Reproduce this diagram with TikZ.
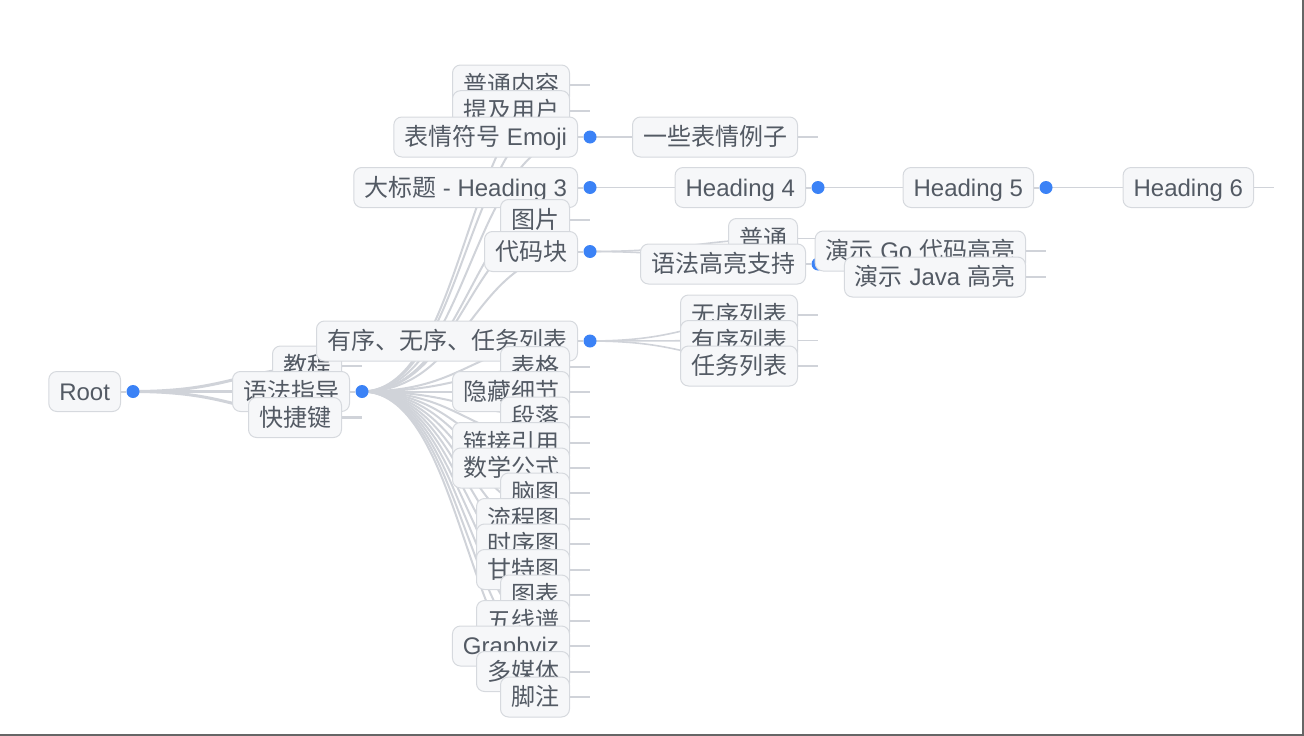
\documentclass[tikz,border=0pt]{standalone}
\usepackage{fontspec}
\setmainfont{Noto Sans CJK SC}
\newfontfamily\en{Liberation Sans}
\usetikzlibrary{calc}
\definecolor{nodefill}{RGB}{246,247,249}
\definecolor{nodeline}{RGB}{214,217,222}
\definecolor{nodetext}{RGB}{83,90,100}
\definecolor{linkgray}{RGB}{208,211,217}
\definecolor{dotblue}{RGB}{59,130,246}
\pgfdeclarelayer{links}
\pgfdeclarelayer{dots}
\pgfsetlayers{links,dots,main}

\begin{document}
\begin{tikzpicture}[
  x=1pt, y=-1pt,
  topic/.style={draw=nodeline, fill=nodefill, rounded corners=8pt, line width=1pt,
    text=nodetext, font=\fontsize{24}{28}\selectfont, inner xsep=10.5pt,
    inner ysep=0pt, text height=20.5pt, text depth=3.5pt, minimum height=40pt,
    anchor=east},
  knot/.style={circle, fill=dotblue, inner sep=0pt, minimum size=13pt},
  link/.style={draw=linkgray, line width=#1, to path={
    let \p1=(\tikztostart), \p2=(\tikztotarget) in
    .. controls ({(\x1+\x2)/2},\y1) and ({(\x1+\x2)/2},\y2) .. (\tikztotarget)}},
  link/.default=2pt,
  stub/.style={draw=linkgray, line width=#1},
  stub/.default=2pt
]
\useasboundingbox (0,0) rectangle (1304,736);
% root and first level
\node[topic] (root) at (121,391.5) {\en Root};
\node[topic] (jc) at (342,366) {教程};
\node[topic] (yf) at (350,391.5) {语法指导};
\node[topic] (kj) at (342,417.5) {快捷键};
% second level
\node[topic] (pt) at (570,85) {普通内容};
\node[topic] (tj) at (570,110.7) {提及用户};
\node[topic] (bq) at (578,137) {表情符号{\en{} Emoji}};
\node[topic] (li) at (798,137) {一些表情例子};
\node[topic] (dbt) at (578,187.5) {大标题{\en{} - Heading 3}};
\node[topic] (h4) at (806,187.5) {\en Heading 4};
\node[topic] (h5) at (1034,187.5) {\en Heading 5};
\node[topic] (h6) at (1254,187.5) {\en Heading 6};
\node[topic] (tp) at (570,219.5) {图片};
\node[topic] (dm) at (578,251.5) {代码块};
\node[topic] (pt2) at (798,238.5) {普通};
\node[topic] (yg) at (806,264) {语法高亮支持};
\node[topic] (go) at (1026,251) {演示{\en{} Go }代码高亮};
\node[topic] (java) at (1026,277) {演示{\en{} Java }高亮};
\node[topic] (lb) at (578,341) {有序、无序、任务列表};
\node[topic] (lb1) at (798,315) {无序列表};
\node[topic] (lb2) at (798,340.5) {有序列表};
\node[topic] (lb3) at (798,366) {任务列表};
\node[topic] (bg) at (570,366.5) {表格};
\node[topic] (yc) at (570,391.5) {隐藏细节};
\node[topic] (dl) at (570,417) {段落};
\node[topic] (lj) at (570,442.5) {链接引用};
\node[topic] (sx) at (570,468) {数学公式};
\node[topic] (nt) at (570,493) {脑图};
\node[topic] (lc) at (570,518.5) {流程图};
\node[topic] (sxt) at (570,544) {时序图};
\node[topic] (gt) at (570,569.5) {甘特图};
\node[topic] (tb) at (570,595) {图表};
\node[topic] (wx) at (570,620.5) {五线谱};
\node[topic] (gv) at (570,646) {\en Graphviz};
\node[topic] (dmt) at (570,671.5) {多媒体};
\node[topic] (jz) at (570,697) {脚注};

\begin{pgfonlayer}{dots}
\foreach \nd in {jc,kj}
  \draw[stub=2.5pt] (\nd.east) -- ++(20,0);
\foreach \nd in {pt,tj,tp,bg,yc,dl,lj,sx,nt,lc,sxt,gt,tb,wx,gv,dmt,jz}
  \draw[stub] (\nd.east) -- ++(20,0);
\foreach \nd in {li,pt2,lb1,lb2,lb3,go,java,h6}
  \draw[stub=1.5pt] (\nd.east) -- ++(20,0);
\foreach \nd in {root,yf,bq,dbt,dm,lb,h4,yg,h5} {
  \node[knot] (\nd-k) at ([xshift=12pt]\nd.east) {};
  \draw[stub] (\nd.east) -- (\nd-k);
}
\end{pgfonlayer}

\begin{pgfonlayer}{links}
\foreach \nd in {jc,yf,kj}
  \draw[link=3pt] (root-k.center) to (\nd.east);
\foreach \nd in {pt,tj,bq,dbt,tp,dm,lb,bg,yc,dl,lj,sx,nt,lc,sxt,gt,tb,wx,gv,dmt,jz}
  \draw[link] (yf-k.center) to (\nd.east);
\draw[link=1.6pt] (bq-k.center) to (li.east);
\draw[link=1.6pt] (dbt-k.center) to (h4.east);
\draw[link=1.6pt] (h4-k.center) to (h5.east);
\draw[link=1.6pt] (h5-k.center) to (h6.east);
\foreach \nd in {pt2,yg}
  \draw[link=1.6pt] (dm-k.center) to (\nd.east);
\foreach \nd in {go,java}
  \draw[link=1.6pt] (yg-k.center) to (\nd.east);
\foreach \nd in {lb1,lb2,lb3}
  \draw[link=1.6pt] (lb-k.center) to (\nd.east);
\end{pgfonlayer}

% screen edge
\draw[line width=1.6pt, black!60] (0,735.2) -- (1303.2,735.2) -- (1303.2,0);
\end{tikzpicture}
\end{document}
